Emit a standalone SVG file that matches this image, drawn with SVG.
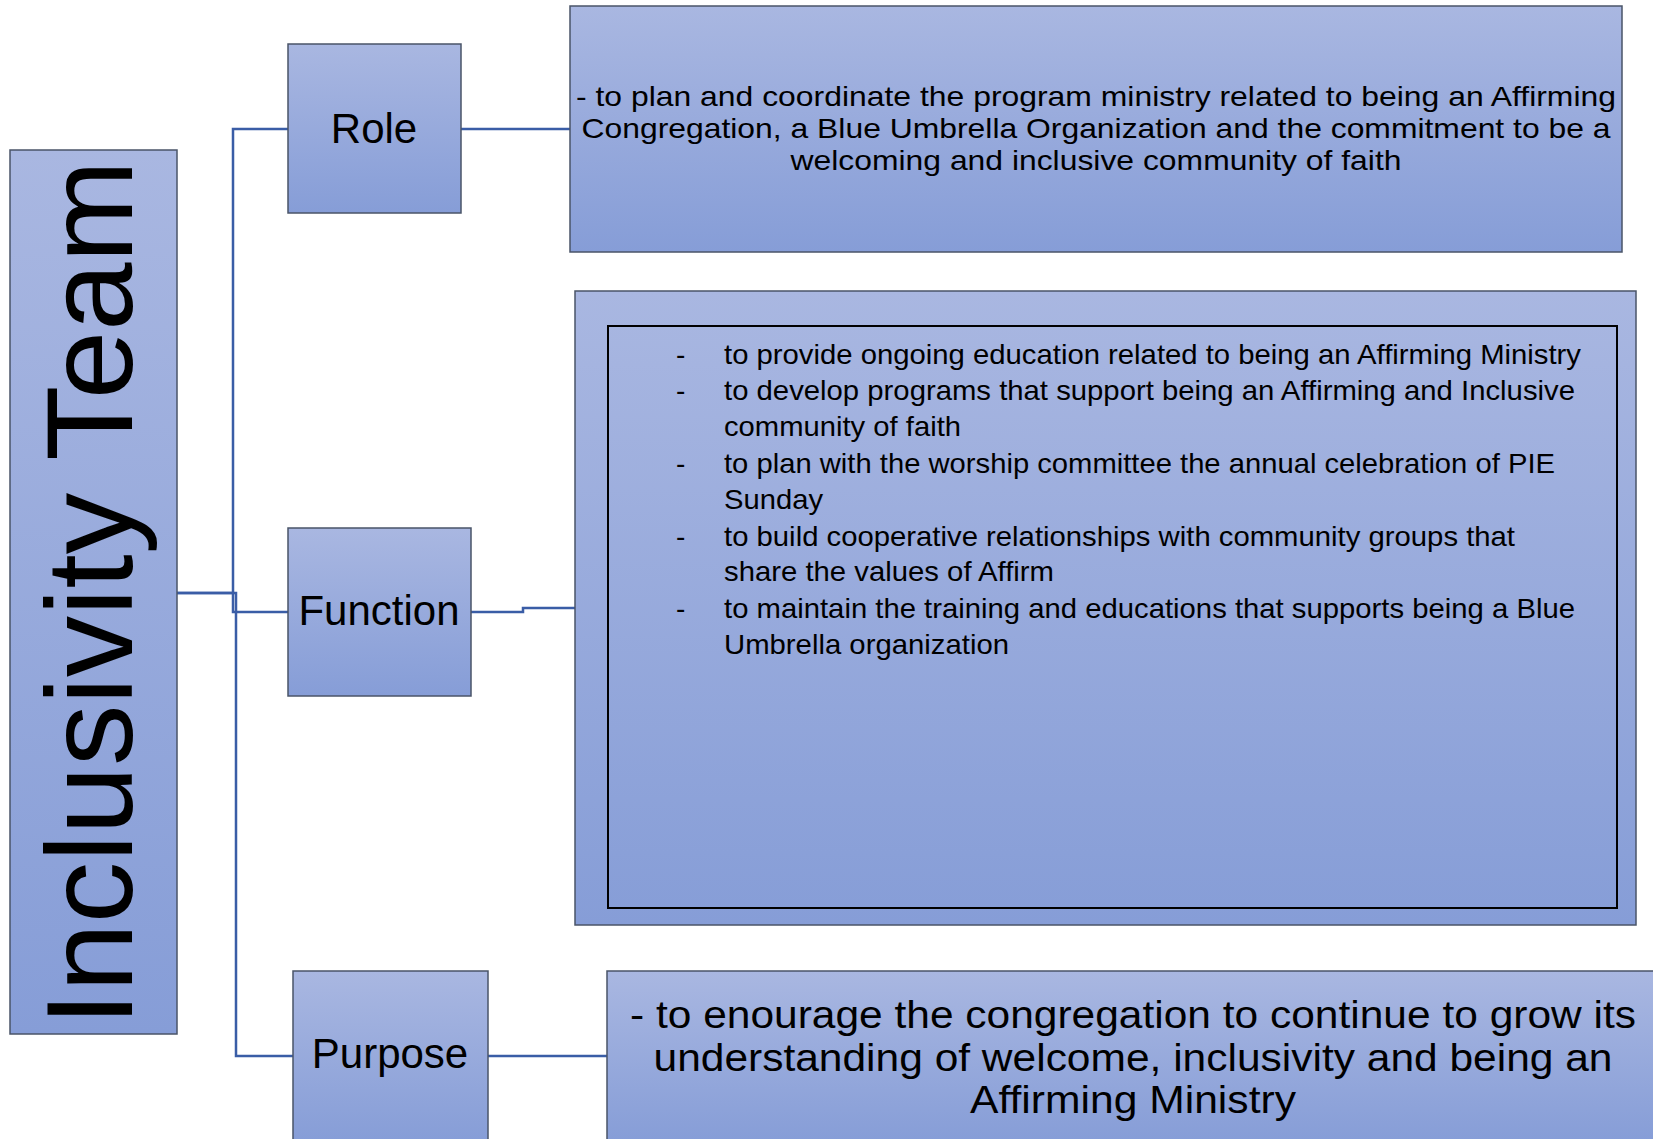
<svg xmlns="http://www.w3.org/2000/svg" width="1653" height="1139" viewBox="0 0 1653 1139">
<defs>
<linearGradient id="g" x1="0" y1="0" x2="0" y2="1">
<stop offset="0" stop-color="#A9B7E1"/>
<stop offset="1" stop-color="#869DD7"/>
</linearGradient>
</defs>
<style>
.box{fill:url(#g);stroke:#4A5468;stroke-width:1.5}
.inner{fill:none;stroke:#000;stroke-width:2}
.t{font-family:"Liberation Sans",Arial,sans-serif;fill:#000}
.c{fill:none;stroke:#3A5DA6;stroke-width:2.5}
</style>
<rect width="1653" height="1139" fill="#fff"/>
<g id="connectors">
<polyline class="c" points="177,593 233,593 233,129 288,129"/>
<polyline class="c" points="177,593 233,593 233,612 288,612"/>
<polyline class="c" points="233,593 236,593 236,1056 293,1056"/>
<line class="c" x1="461" y1="129" x2="570" y2="129"/>
<polyline class="c" points="471,612 523,612 523,608 575,608"/>
<line class="c" x1="488" y1="1056" x2="607" y2="1056"/>
</g>
<g id="inclusivity-team">
<rect class="box" x="10" y="150" width="167" height="884"/>
<text class="t" font-size="123" text-anchor="middle" transform="translate(132,593) rotate(-90)">Inclusivity Team</text>
</g>
<g id="role">
<rect class="box" x="288" y="44" width="173" height="169"/>
<text class="t" font-size="42" x="374" y="143" text-anchor="middle">Role</text>
</g>
<g id="role-detail">
<rect class="box" x="570" y="6" width="1052" height="246"/>
<g class="t" font-size="28" text-anchor="middle">
<text x="1096" y="106" textLength="1040" lengthAdjust="spacingAndGlyphs">- to plan and coordinate the program ministry related to being an Affirming</text>
<text x="1096" y="138" textLength="1029" lengthAdjust="spacingAndGlyphs">Congregation, a Blue Umbrella Organization and the commitment to be a</text>
<text x="1096" y="170" textLength="611" lengthAdjust="spacingAndGlyphs">welcoming and inclusive community of faith</text>
</g>
</g>
<g id="function">
<rect class="box" x="288" y="528" width="183" height="168"/>
<text class="t" font-size="42" x="379" y="625" text-anchor="middle">Function</text>
</g>
<g id="function-detail">
<rect class="box" x="575" y="291" width="1061" height="634"/>
<rect class="inner" x="608" y="326" width="1009" height="582"/>
<g class="t" font-size="28">
<text x="676" y="364">-</text>
<text x="724" y="364" textLength="857" lengthAdjust="spacingAndGlyphs">to provide ongoing education related to being an Affirming Ministry</text>
<text x="676" y="400">-</text>
<text x="724" y="400" textLength="851" lengthAdjust="spacingAndGlyphs">to develop programs that support being an Affirming and Inclusive</text>
<text x="724" y="436" textLength="237" lengthAdjust="spacingAndGlyphs">community of faith</text>
<text x="676" y="473">-</text>
<text x="724" y="473" textLength="831" lengthAdjust="spacingAndGlyphs">to plan with the worship committee the annual celebration of PIE</text>
<text x="724" y="509" textLength="99" lengthAdjust="spacingAndGlyphs">Sunday</text>
<text x="676" y="546">-</text>
<text x="724" y="546" textLength="791" lengthAdjust="spacingAndGlyphs">to build cooperative relationships with community groups that</text>
<text x="724" y="581" textLength="330" lengthAdjust="spacingAndGlyphs">share the values of Affirm</text>
<text x="676" y="618">-</text>
<text x="724" y="618" textLength="851" lengthAdjust="spacingAndGlyphs">to maintain the training and educations that supports being a Blue</text>
<text x="724" y="654" textLength="285" lengthAdjust="spacingAndGlyphs">Umbrella organization</text>
</g>
</g>
<g id="purpose">
<rect class="box" x="293" y="971" width="195" height="172"/>
<text class="t" font-size="42" x="390" y="1068" text-anchor="middle">Purpose</text>
</g>
<g id="purpose-detail">
<rect class="box" x="607" y="971" width="1060" height="172"/>
<g class="t" font-size="38" text-anchor="middle">
<text x="1133" y="1028" textLength="1006" lengthAdjust="spacingAndGlyphs">- to enourage the congregation to continue to grow its</text>
<text x="1133" y="1071" textLength="959" lengthAdjust="spacingAndGlyphs">understanding of welcome, inclusivity and being an</text>
<text x="1133" y="1113" textLength="326" lengthAdjust="spacingAndGlyphs">Affirming Ministry</text>
</g>
</g>
</svg>
